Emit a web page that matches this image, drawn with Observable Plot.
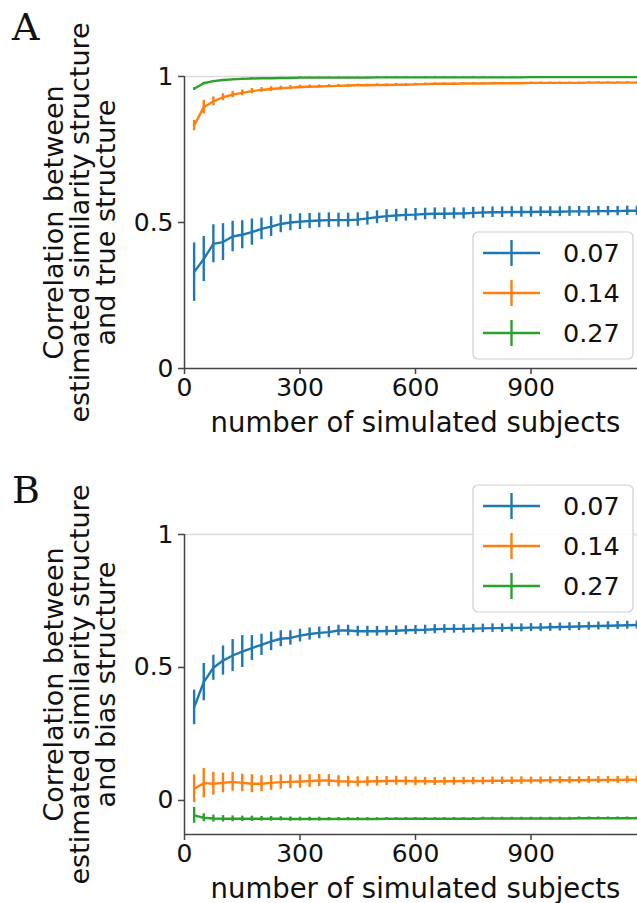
<!DOCTYPE html>
<html><head><meta charset="utf-8">
<script src="https://cdn.jsdelivr.net/npm/d3@7"></script>
<script src="https://cdn.jsdelivr.net/npm/@observablehq/plot@0.6"></script>
<style>
html,body{margin:0;padding:0;background:#fff;overflow:hidden;width:637px;height:903px;}
#wrap{position:relative;width:646px;}
svg{display:block;}
</style></head><body><div id="wrap"></div>
<script>
// number of simulated subjects
const subjects = [25,50,75,100,125,150,175,200,225,250,275,300,325,350,375,400,425,450,475,500,525,550,575,600,625,650,675,700,725,750,775,800,825,850,875,900,925,950,975,1000,1025,1050,1075,1100,1125,1150,1175,1200];
const seriesNames = ["0.07","0.14","0.27"];
const seriesColors = ["#1f77b4","#ff7f0e","#2ca02c"];
const xTicks = [0,300,600,900];
const yTicks = [0,0.5,1];

// Panel A: correlation with true structure
const aMean007 = [0.330,0.375,0.427,0.433,0.452,0.458,0.467,0.478,0.486,0.495,0.500,0.503,0.505,0.507,0.508,0.508,0.508,0.510,0.514,0.518,0.522,0.524,0.526,0.527,0.529,0.530,0.530,0.531,0.531,0.533,0.534,0.535,0.535,0.536,0.536,0.536,0.537,0.537,0.537,0.538,0.538,0.538,0.539,0.539,0.539,0.540,0.540,0.540];
const aErr007  = [0.100,0.077,0.065,0.063,0.052,0.048,0.045,0.037,0.034,0.030,0.028,0.027,0.026,0.025,0.025,0.024,0.024,0.023,0.023,0.022,0.022,0.021,0.021,0.021,0.020,0.020,0.020,0.019,0.019,0.019,0.019,0.018,0.018,0.018,0.018,0.018,0.017,0.017,0.017,0.017,0.017,0.017,0.016,0.016,0.016,0.016,0.016,0.016];
const aMean014 = [0.832,0.895,0.915,0.929,0.938,0.944,0.950,0.954,0.957,0.960,0.962,0.964,0.965,0.966,0.967,0.968,0.969,0.970,0.970,0.971,0.971,0.972,0.972,0.973,0.974,0.975,0.975,0.975,0.976,0.976,0.976,0.977,0.977,0.977,0.977,0.978,0.978,0.978,0.978,0.978,0.978,0.979,0.979,0.979,0.979,0.979,0.979,0.979];
const aErr014  = [0.018,0.023,0.015,0.012,0.011,0.010,0.009,0.008,0.008,0.007,0.007,0.006,0.006,0.005,0.005,0.005,0.004,0.004,0.004,0.004,0.004,0.004,0.004,0.004,0.004,0.003,0.003,0.003,0.003,0.003,0.003,0.003,0.003,0.003,0.003,0.003,0.003,0.003,0.003,0.003,0.003,0.003,0.003,0.003,0.003,0.003,0.003,0.003];
const aMean027 = [0.958,0.977,0.984,0.988,0.990,0.992,0.993,0.994,0.994,0.995,0.995,0.996,0.996,0.996,0.996,0.996,0.996,0.996,0.996,0.997,0.997,0.997,0.997,0.997,0.997,0.997,0.997,0.997,0.997,0.997,0.997,0.997,0.997,0.997,0.997,0.998,0.998,0.998,0.998,0.998,0.998,0.998,0.998,0.998,0.998,0.998,0.998,0.998];
const aErr027  = [0.004,0.003,0.002,0.002,0.002,0.002,0.002,0.002,0.002,0.002,0.002,0.002,0.002,0.002,0.002,0.002,0.002,0.002,0.002,0.002,0.002,0.002,0.002,0.002,0.002,0.002,0.002,0.002,0.002,0.002,0.002,0.002,0.002,0.002,0.002,0.002,0.002,0.002,0.002,0.002,0.002,0.002,0.002,0.002,0.002,0.002,0.002,0.002];

// Panel B: correlation with bias structure
const bMean007 = [0.350,0.445,0.499,0.526,0.545,0.560,0.573,0.585,0.598,0.608,0.611,0.620,0.626,0.630,0.633,0.639,0.639,0.636,0.636,0.636,0.637,0.638,0.640,0.641,0.642,0.644,0.645,0.645,0.645,0.646,0.647,0.648,0.648,0.649,0.649,0.650,0.650,0.651,0.652,0.653,0.654,0.655,0.656,0.657,0.658,0.659,0.660,0.661];
const bErr007  = [0.065,0.070,0.047,0.055,0.060,0.060,0.047,0.040,0.035,0.030,0.027,0.024,0.023,0.022,0.021,0.020,0.020,0.019,0.019,0.018,0.018,0.018,0.017,0.017,0.017,0.017,0.016,0.016,0.016,0.016,0.016,0.016,0.016,0.015,0.015,0.015,0.015,0.015,0.015,0.015,0.015,0.015,0.015,0.015,0.015,0.015,0.015,0.015];
const bMean014 = [0.044,0.065,0.063,0.066,0.070,0.066,0.063,0.063,0.066,0.069,0.070,0.071,0.073,0.075,0.075,0.072,0.071,0.070,0.071,0.072,0.073,0.074,0.073,0.072,0.072,0.071,0.072,0.072,0.073,0.073,0.073,0.074,0.074,0.074,0.075,0.075,0.075,0.076,0.076,0.076,0.076,0.077,0.077,0.077,0.077,0.078,0.078,0.078];
const bErr014  = [0.052,0.055,0.043,0.037,0.035,0.033,0.034,0.030,0.028,0.027,0.026,0.025,0.024,0.023,0.022,0.021,0.020,0.019,0.018,0.018,0.017,0.017,0.016,0.016,0.015,0.015,0.015,0.015,0.014,0.014,0.014,0.014,0.014,0.014,0.014,0.013,0.013,0.013,0.013,0.013,0.013,0.013,0.013,0.013,0.013,0.013,0.013,0.013];
const bMean027 = [-0.056,-0.065,-0.068,-0.069,-0.069,-0.069,-0.069,-0.069,-0.069,-0.069,-0.070,-0.070,-0.070,-0.070,-0.070,-0.070,-0.070,-0.070,-0.070,-0.070,-0.069,-0.069,-0.069,-0.069,-0.069,-0.069,-0.069,-0.069,-0.069,-0.069,-0.068,-0.068,-0.068,-0.068,-0.068,-0.068,-0.068,-0.068,-0.068,-0.068,-0.067,-0.067,-0.067,-0.067,-0.067,-0.067,-0.067,-0.067];
const bErr027  = [0.030,0.015,0.013,0.012,0.011,0.010,0.010,0.009,0.009,0.008,0.008,0.007,0.007,0.007,0.006,0.006,0.006,0.006,0.006,0.005,0.005,0.005,0.005,0.005,0.005,0.005,0.005,0.005,0.005,0.005,0.005,0.005,0.005,0.005,0.005,0.005,0.005,0.005,0.005,0.005,0.005,0.005,0.005,0.005,0.005,0.005,0.005,0.005];

const FONT = "DejaVu Sans, sans-serif";

function rowsFor(means, errs) {
  const rows = [];
  seriesNames.forEach((s, k) => {
    subjects.forEach((n, i) => rows.push({series: s, n, mean: means[k][i], err: errs[k][i]}));
  });
  return rows;
}

function panel({rows, yDomain, height, marginTop, marginBottom, ylabel, letter, letterY, legendTop}) {
  const spine = "#444";
  const p = Plot.plot({
    width: 646, height, marginLeft: 184, marginRight: 0, marginTop, marginBottom,
    style: {fontFamily: FONT, fontSize: "25px", color: "#111", background: "white", overflow: "visible"},
    x: {domain: [0, 1200]},
    y: {domain: yDomain},
    color: {domain: seriesNames, range: seriesColors},
    marks: [
      Plot.ruleY([1], {stroke: "#dadada", strokeWidth: 1.3}),
      Plot.ruleX([0], {stroke: spine, strokeWidth: 1.5}),
      Plot.ruleY([yDomain[0]], {stroke: spine, strokeWidth: 1.5}),
      Plot.axisX({ticks: xTicks, tickFormat: d => String(d), tickSize: 6, tickPadding: 4, label: null, stroke: spine, strokeWidth: 1.5, fontSize: 25}),
      Plot.axisY({ticks: yTicks, tickFormat: d => String(d), tickSize: 6, tickPadding: 5, label: null, stroke: spine, strokeWidth: 1.5, fontSize: 25}),
      Plot.line(rows, {x: "n", y: "mean", z: "series", stroke: "series", strokeWidth: 2.4}),
      Plot.ruleX(rows, {x: "n", y1: d => d.mean - d.err, y2: d => d.mean + d.err, stroke: "series", strokeWidth: 2.4}),
      Plot.text([ylabel], {frameAnchor: "left", dx: -104, rotate: -90, textAnchor: "middle", lineAnchor: "middle", lineHeight: 0.98, fontSize: 27, fill: "#111"}),
      Plot.text(["number of simulated subjects"], {frameAnchor: "bottom", dy: 63, lineAnchor: "bottom", textAnchor: "middle", fontSize: 27.5, fill: "#111"})
    ]
  });
  const svg = d3.select(p);
  svg.append("text").attr("x", 12).attr("y", letterY).attr("text-anchor", "start")
    .attr("font-family", "DejaVu Serif, serif").attr("font-size", 38).attr("fill", "#111").text(letter);
  const g = svg.append("g");
  g.append("rect").attr("x", 473).attr("y", legendTop).attr("width", 160).attr("height", 127).attr("rx", 5)
    .attr("fill", "white").attr("fill-opacity", 0.85).attr("stroke", "#cfcfcf").attr("stroke-width", 1.2);
  seriesNames.forEach((s, i) => {
    const cy = legendTop + 21 + i * 40;
    g.append("line").attr("x1", 483).attr("x2", 540).attr("y1", cy).attr("y2", cy).attr("stroke", seriesColors[i]).attr("stroke-width", 2.4);
    g.append("line").attr("x1", 511.5).attr("x2", 511.5).attr("y1", cy - 13).attr("y2", cy + 13).attr("stroke", seriesColors[i]).attr("stroke-width", 2.4);
    g.append("text").attr("x", 563).attr("y", cy).attr("dy", "0.36em").attr("text-anchor", "start")
      .attr("font-family", FONT).attr("font-size", 25.5).attr("fill", "#111").text(s);
  });
  return p;
}

const wrap = document.getElementById("wrap");
wrap.appendChild(panel({
  rows: rowsFor([aMean007, aMean014, aMean027], [aErr007, aErr014, aErr027]),
  yDomain: [0, 1], height: 450, marginTop: 76, marginBottom: 82,
  ylabel: "Correlation between\nestimated similarity structure\nand true structure",
  letter: "A", letterY: 40, legendTop: 232
}));
wrap.appendChild(panel({
  rows: rowsFor([bMean007, bMean014, bMean027], [bErr007, bErr014, bErr027]),
  yDomain: [-0.128, 1], height: 453, marginTop: 84, marginBottom: 69,
  ylabel: "Correlation between\nestimated similarity structure\nand bias structure",
  letter: "B", letterY: 53, legendTop: 35
}));
</script></body></html>
